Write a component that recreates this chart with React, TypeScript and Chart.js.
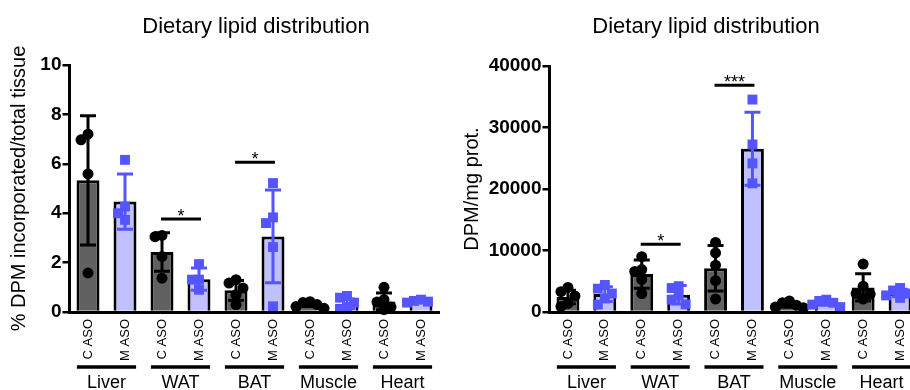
import React, { useEffect, useRef } from 'react';
import { Chart, registerables } from 'chart.js';
Chart.register(...registerables);

// ---------- data ----------
const categories = ['C ASO', 'M ASO', 'C ASO', 'M ASO', 'C ASO', 'M ASO', 'C ASO', 'M ASO', 'C ASO', 'M ASO'];
const groups = ['Liver', 'WAT', 'BAT', 'Muscle', 'Heart'];
const chartTitle = 'Dietary lipid distribution';

const leftYTitle = '% DPM incorporated/total tissue';
const leftMax = 10;
const leftStep = 2;
const leftMeans = [5.33, 4.47, 2.43, 1.33, 0.88, 3.06, 0.3, 0.33, 0.43, 0.45];
const leftSD = [2.62, 1.12, 0.78, 0.45, 0.4, 1.88, 0.08, 0.2, 0.34, 0.06];
const leftPoints = [
  [7.2, 6.97, 5.59, 1.58],
  [6.16, 4.27, 4.0, 3.73],
  [3.1, 3.05, 2.25, 1.37],
  [1.94, 1.31, 1.31, 0.9],
  [1.31, 1.17, 0.97, 0.7, 0.3],
  [5.22, 3.83, 3.6, 2.63, 0.23],
  [0.42, 0.38, 0.3, 0.22, 0.15],
  [0.65, 0.58, 0.38, 0.2, 0.12],
  [1.0, 0.5, 0.4, 0.2, 0.1],
  [0.5, 0.45, 0.42, 0.38],
];
const leftSigGroups = [1, 2];
const leftSigHeights = [3.77, 6.06];
const leftSigMarks = ['*', '*'];

const rightYTitle = 'DPM/mg prot.';
const rightMax = 40000;
const rightStep = 10000;
const rightMeans = [2430, 2920, 6160, 2810, 7130, 26540, 1190, 1460, 4000, 3080];
const rightSD = [1100, 1200, 2300, 1500, 3700, 5950, 400, 350, 2200, 600];
const rightPoints = [
  [4000, 3300, 2600, 1400, 900],
  [4400, 3800, 3000, 2200, 1200],
  [9000, 6900, 6600, 5300, 3000],
  [4200, 3900, 2700, 2000, 1250],
  [11300, 9600, 7600, 5100, 2100],
  [34540, 27240, 24160, 20920],
  [1800, 1500, 1100, 800, 700],
  [2000, 1800, 1500, 1200, 800],
  [7800, 4200, 3000, 2900, 2100],
  [3900, 3500, 3000, 2700, 2300],
];
const rightSigGroups = [1, 2];
const rightSigHeights = [11030, 36860];
const rightSigMarks = ['*', '***'];

// ---------- styles ----------
const FONT = "'Liberation Sans', Arial, sans-serif";
const C_FILL = '#616161';
const M_FILL = '#c0c0ff';
const C_POINT = '#000000';
const M_POINT = '#5555ff';
const H = 390;

type Spec = {
  left: number; width: number; areaLeft: number; areaRight: number; areaTop: number; areaBottom: number;
  titleX: number; yTitleX: number; yTitle: string; yMax: number; yStep: number;
  means: number[]; sd: number[]; points: number[][];
  sigGroups: number[]; sigHeights: number[]; sigMarks: string[];
};

const leftSpec: Spec = {
  left: 0, width: 455, areaLeft: 69.5, areaRight: 439.5, areaTop: 65, areaBottom: 312,
  titleX: 256, yTitleX: 19, yTitle: leftYTitle, yMax: leftMax, yStep: leftStep,
  means: leftMeans, sd: leftSD, points: leftPoints,
  sigGroups: leftSigGroups, sigHeights: leftSigHeights, sigMarks: leftSigMarks,
};
const rightSpec: Spec = {
  left: 455, width: 480, areaLeft: 94.5, areaRight: 463.5, areaTop: 66, areaBottom: 312,
  titleX: 251, yTitleX: 17, yTitle: rightYTitle, yMax: rightMax, yStep: rightStep,
  means: rightMeans, sd: rightSD, points: rightPoints,
  sigGroups: rightSigGroups, sigHeights: rightSigHeights, sigMarks: rightSigMarks,
};

// simple beeswarm: spread overlapping points sideways (category units)
function swarm(values: number[], pxPerUnit: number, pxPerCat: number): number[] {
  const step = 7;
  const placed: { dx: number; py: number }[] = [];
  const out: number[] = [];
  const tries = [0, -1, 1, -2, 2];
  values.forEach((v) => {
    const py = v * pxPerUnit;
    let chosen = 0;
    for (const t of tries) {
      const dx = t * step;
      const ok = placed.every((q) => Math.abs(q.py - py) >= 9 || Math.abs(q.dx - dx) >= step);
      chosen = dx;
      if (ok) break;
    }
    placed.push({ dx: chosen, py });
    out.push(chosen / pxPerCat);
  });
  return out;
}

function Panel({ spec }: { spec: Spec }) {
  const ref = useRef<HTMLCanvasElement>(null);
  useEffect(() => {
    const p = spec;
    const n = categories.length;
    const pxPerUnit = (p.areaBottom - p.areaTop) / p.yMax;
    const pxPerCat = (p.areaRight - p.areaLeft) / n;
    const scatter: { x: number; y: number }[] = [];
    const pStyle: string[] = [];
    const pColor: string[] = [];
    const pRadius: number[] = [];
    p.points.forEach((arr, i) => {
      const offs = swarm(arr, pxPerUnit, pxPerCat);
      arr.forEach((v, j) => {
        const isC = i % 2 === 0;
        scatter.push({ x: i + offs[j], y: v });
        pStyle.push(isC ? 'circle' : 'rect');
        pColor.push(isC ? C_POINT : M_POINT);
        pRadius.push(isC ? 5.5 : 7);
      });
    });

    const overlay = {
      id: 'overlay',
      afterDatasetDraw(chart: any, args: any) {
        if (args.index !== 1) return;
        const ctx = chart.ctx;
        const xs = chart.scales.x;
        const ys = chart.scales.y;
        ctx.save();
        ctx.lineWidth = 3;
        p.means.forEach((m, i) => {
          const cx = xs.getPixelForValue(i);
          const top = ys.getPixelForValue(m + p.sd[i]);
          const bot = ys.getPixelForValue(Math.max(0, m - p.sd[i]));
          ctx.strokeStyle = i % 2 === 0 ? C_POINT : M_POINT;
          ctx.beginPath();
          ctx.moveTo(cx, top); ctx.lineTo(cx, bot);
          ctx.moveTo(cx - 8, top); ctx.lineTo(cx + 8, top);
          ctx.moveTo(cx - 8, bot); ctx.lineTo(cx + 8, bot);
          ctx.stroke();
        });
        ctx.restore();
      },
      afterDraw(chart: any) {
        const ctx = chart.ctx;
        const xs = chart.scales.x;
        const ys = chart.scales.y;
        const area = chart.chartArea;
        ctx.save();
        ctx.fillStyle = '#000';
        // title
        ctx.font = `22px ${FONT}`;
        ctx.textAlign = 'center';
        ctx.textBaseline = 'middle';
        ctx.fillText(chartTitle, p.titleX, 27);
        // y title
        ctx.save();
        ctx.translate(p.yTitleX, (area.top + area.bottom) / 2);
        ctx.rotate(-Math.PI / 2);
        ctx.font = `20px ${FONT}`;
        ctx.fillText(p.yTitle, 0, 0);
        ctx.restore();
        // significance
        ctx.strokeStyle = '#000';
        ctx.lineWidth = 3;
        p.sigGroups.forEach((g, k) => {
          const x1 = xs.getPixelForValue(g * 2) - 1;
          const x2 = xs.getPixelForValue(g * 2 + 1) + 2;
          const yy = ys.getPixelForValue(p.sigHeights[k]);
          ctx.beginPath(); ctx.moveTo(x1, yy); ctx.lineTo(x2, yy); ctx.stroke();
          ctx.font = `18px ${FONT}`;
          ctx.textBaseline = 'alphabetic';
          ctx.fillText(p.sigMarks[k], (x1 + x2) / 2, yy + 3);
        });
        // groups
        ctx.lineWidth = 3.5;
        groups.forEach((g, k) => {
          const a = xs.getPixelForValue(k * 2);
          const b = xs.getPixelForValue(k * 2 + 1);
          const c = (a + b) / 2;
          const half = 0.8 * pxPerCat;
          const ly = area.bottom + 55;
          ctx.beginPath(); ctx.moveTo(c - half, ly); ctx.lineTo(c + half, ly); ctx.stroke();
          ctx.font = `18px ${FONT}`;
          ctx.textBaseline = 'middle';
          ctx.fillText(g, c, area.bottom + 71);
        });
        ctx.restore();
      },
    };

    const chart = new Chart(ref.current as HTMLCanvasElement, {
      type: 'bar',
      data: {
        labels: categories,
        datasets: [
          {
            type: 'scatter',
            data: scatter,
            xAxisID: 'xs',
            yAxisID: 'y',
            pointStyle: pStyle,
            pointBackgroundColor: pColor,
            pointBorderColor: pColor,
            pointBorderWidth: 0,
            pointRadius: pRadius,
            showLine: false,
            clip: false,
            order: 0,
          } as any,
          {
            type: 'bar',
            data: p.means,
            xAxisID: 'x',
            yAxisID: 'y',
            grouped: false,
            backgroundColor: categories.map((_, i) => (i % 2 === 0 ? C_FILL : M_FILL)),
            borderColor: '#000',
            borderWidth: 3,
            barPercentage: 0.62,
            categoryPercentage: 1,
            order: 1,
          } as any,
        ],
      },
      options: {
        responsive: false,
        animation: false,
        layout: { padding: { left: 0, top: p.areaTop, right: p.width - p.areaRight, bottom: 0 } },
        plugins: { legend: { display: false }, title: { display: false }, tooltip: { enabled: false } },
        scales: {
          x: {
            type: 'category',
            offset: true,
            grid: { display: false, drawTicks: false },
            border: { display: true, color: '#000', width: 3, z: 1 },
            ticks: {
              autoSkip: false, minRotation: 90, maxRotation: 90, padding: 7, color: '#000',
              font: { family: FONT, size: 13 },
            },
            afterFit: (s: any) => { s.height = H - p.areaBottom; },
          },
          xs: { type: 'linear', display: false, min: -0.5, max: n - 0.5, offset: false },
          y: {
            type: 'linear',
            min: 0,
            max: p.yMax,
            grid: { display: true, drawOnChartArea: false, drawTicks: true, tickLength: 7, color: '#000', lineWidth: 2.5 },
            border: { display: true, color: '#000', width: 3 },
            ticks: {
              stepSize: p.yStep, padding: 1, color: '#000',
              font: { family: FONT, size: 19, weight: 'bold' },
              callback: (v: any) => String(v),
            },
            afterFit: (s: any) => { s.width = p.areaLeft; },
          },
        } as any,
      },
      plugins: [overlay],
    });
    return () => chart.destroy();
  }, [spec]);
  return (
    <canvas
      ref={ref}
      width={spec.width}
      height={H}
      style={{ position: 'absolute', left: spec.left, top: 0, width: spec.width, height: H }}
    />
  );
}

export default function App() {
  return (
    <div style={{ position: 'fixed', left: 0, top: 0, width: 910, height: H, overflow: 'hidden', background: '#fff' }}>
      <Panel spec={leftSpec} />
      <Panel spec={rightSpec} />
    </div>
  );
}
